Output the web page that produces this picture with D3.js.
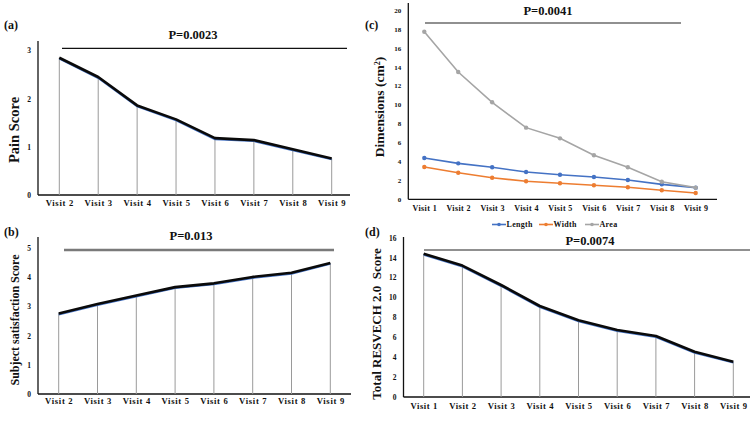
<!DOCTYPE html>
<html>
<head>
<meta charset="utf-8">
<script src="https://cdn.jsdelivr.net/npm/d3@7"></script>
<style>
  body { margin: 0; background: #fff; }
  svg { display: block; font-family: "Liberation Serif", "Times New Roman", serif; font-weight: bold; }
</style>
</head>
<body>
<svg id="chart" width="750" height="422"></svg>
<script>
// 数据
const visits2to9 = ["Visit 2", "Visit 3", "Visit 4", "Visit 5", "Visit 6", "Visit 7", "Visit 8", "Visit 9"];
const visits1to9 = ["Visit 1", "Visit 2", "Visit 3", "Visit 4", "Visit 5", "Visit 6", "Visit 7", "Visit 8", "Visit 9"];

const painScore = [2.85, 2.45, 1.86, 1.57, 1.18, 1.14, 0.95, 0.76];
const satisfactionScore = [2.76, 3.08, 3.37, 3.66, 3.79, 4.01, 4.15, 4.49];
const lengthCm = [4.36, 3.8, 3.38, 2.88, 2.6, 2.36, 2.04, 1.58, 1.23];
const widthCm = [3.41, 2.81, 2.28, 1.9, 1.69, 1.48, 1.27, 0.95, 0.67];
const areaCm = [17.7, 13.45, 10.25, 7.57, 6.44, 4.65, 3.38, 1.86, 1.23];
const resvechScore = [14.39, 13.2, 11.25, 9.14, 7.7, 6.73, 6.12, 4.55, 3.55];

const painTicks = [0, 1, 2, 3];
const satTicks = [0, 1, 2, 3, 4, 5];
const dimTicks = [0, 2, 4, 6, 8, 10, 12, 14, 16, 18, 20];
const resTicks = [0, 2, 4, 6, 8, 10, 12, 14, 16];

const dimSeries = [
  { name: "Length", values: lengthCm, color: "#4472C4" },
  { name: "Width", values: widthCm, color: "#ED7D31" },
  { name: "Area", values: areaCm, color: "#A5A5A5" }
];

const svg = d3.select("#chart");

// 画一个面板的坐标轴和标题
function drawFrame(p) {
  const g = svg.append("g");
  // x 轴线
  g.append("line")
    .attr("x1", p.axisX).attr("x2", p.axisRight)
    .attr("y1", p.y(0)).attr("y2", p.y(0))
    .attr("stroke", "#111").attr("stroke-width", 1.3);
  // y 轴线
  g.append("line")
    .attr("x1", p.axisX).attr("x2", p.axisX)
    .attr("y1", p.axisTop).attr("y2", p.y(0))
    .attr("stroke", "#111").attr("stroke-width", 1.3);

  // y 刻度
  const ya = g.append("g")
    .attr("transform", `translate(${p.axisX},0)`)
    .call(d3.axisLeft(p.y).tickValues(p.yTicks).tickFormat(d3.format("d")).tickSize(0).tickPadding(p.yPad));
  ya.select(".domain").remove();
  ya.selectAll("text").attr("font-size", p.yFont).attr("font-family", "Liberation Serif").attr("font-weight", "bold").attr("fill", "#111");

  // x 刻度
  const xa = g.append("g")
    .attr("transform", `translate(0,${p.y(0)})`)
    .call(d3.axisBottom(p.x).tickSize(0).tickPadding(p.xPad));
  xa.select(".domain").remove();
  xa.selectAll("text").attr("font-size", p.xFont).attr("font-family", "Liberation Serif")
    .attr("font-weight", "bold").attr("fill", "#111").style("letter-spacing", p.xSpacing + "px");

  // y 轴标题
  g.append("text")
    .attr("transform", `translate(${p.titleX},${p.titleY}) rotate(-90)`)
    .attr("text-anchor", "middle")
    .attr("dy", "0.35em")
    .attr("font-size", p.titleFont)
    .attr("fill", "#111")
    .html(p.title);

  // 面板字母
  g.append("text")
    .attr("x", p.letterX).attr("y", p.letterY)
    .attr("font-size", 12).attr("fill", "#111")
    .text(p.letter);

  // P 值线
  g.append("line")
    .attr("x1", p.pX1).attr("x2", p.pX2)
    .attr("y1", p.pY).attr("y2", p.pY)
    .attr("stroke", p.pColor).attr("stroke-width", p.pWidth);
  g.append("text")
    .attr("x", p.pTextX).attr("y", p.pTextY)
    .attr("text-anchor", "middle")
    .attr("font-size", 12.5).attr("fill", "#111")
    .text(p.pText);
  return g;
}

// 黑色折线 + 下垂线
function drawDropLine(g, p, values, labels) {
  const pts = values.map((v, i) => [p.x(labels[i]), p.y(v)]);
  g.selectAll(".drop")
    .data(pts)
    .join("line")
    .attr("x1", d => d[0]).attr("x2", d => d[0])
    .attr("y1", d => d[1]).attr("y2", p.y(0))
    .attr("stroke", "#9a9a9a").attr("stroke-width", 1);
  const line = d3.line();
  g.append("path")
    .attr("d", line(pts.map(d => [d[0], d[1] + 1])))
    .attr("fill", "none").attr("stroke", "#4472C4").attr("stroke-width", 2);
  g.append("path")
    .attr("d", line(pts))
    .attr("fill", "none").attr("stroke", "#0a0a0a").attr("stroke-width", 2.6)
    .attr("stroke-linejoin", "round");
}

// (a) Pain Score
const pa = {
  x: d3.scalePoint().domain(visits2to9).range([59.3, 331.7]),
  y: d3.scaleLinear().domain([0, 3]).range([195, 50.5]),
  axisX: 38, axisRight: 350, axisTop: 41, yTicks: painTicks, yPad: 7, yFont: 7.5,
  xPad: 5, xFont: 8.6, xSpacing: 0.7,
  title: "Pain Score", titleX: 14, titleY: 130, titleFont: 14.5,
  letter: "(a)", letterX: 4, letterY: 29,
  pX1: 62, pX2: 347, pY: 48.3, pColor: "#111", pWidth: 1.2, pText: "P=0.0023", pTextX: 193, pTextY: 39
};
const ga = drawFrame(pa);
drawDropLine(ga, pa, painScore, visits2to9);

// (b) Subject satisfaction Score
const pb = {
  x: d3.scalePoint().domain(visits2to9).range([58.7, 330.3]),
  y: d3.scaleLinear().domain([0, 5]).range([394, 248]),
  axisX: 38, axisRight: 351, axisTop: 237, yTicks: satTicks, yPad: 7, yFont: 7.5,
  xPad: 4, xFont: 8.6, xSpacing: 0.7,
  title: "Subject satisfaction Score", titleX: 15, titleY: 320, titleFont: 12,
  letter: "(b)", letterX: 4, letterY: 236,
  pX1: 64, pX2: 334, pY: 250, pColor: "#7a7a7a", pWidth: 2.4, pText: "P=0.013", pTextX: 191, pTextY: 240
};
const gb = drawFrame(pb);
drawDropLine(gb, pb, satisfactionScore, visits2to9);

// (c) Dimensions
const pc = {
  x: d3.scalePoint().domain(visits1to9).range([424.3, 695.7]),
  y: d3.scaleLinear().domain([0, 20]).range([199.3, 10]),
  axisX: 408.3, axisRight: 717, axisTop: 3, yTicks: dimTicks, yPad: 7, yFont: 7,
  xPad: 6, xFont: 8, xSpacing: 0.4,
  title: "Dimensions (cm<tspan baseline-shift='super' font-size='8'>2</tspan>)", titleX: 379, titleY: 107, titleFont: 13.5,
  letter: "(c)", letterX: 365, letterY: 29,
  pX1: 425, pX2: 681, pY: 23, pColor: "#222", pWidth: 1.2, pText: "P=0.0041", pTextX: 548, pTextY: 15
};
const gc = drawFrame(pc);
const dimLine = d3.line().x((d, i) => pc.x(visits1to9[i])).y(d => pc.y(d));
dimSeries.forEach(s => {
  gc.append("path")
    .attr("d", dimLine(s.values))
    .attr("fill", "none").attr("stroke", s.color).attr("stroke-width", 1.6);
  gc.selectAll(null)
    .data(s.values)
    .join("circle")
    .attr("cx", (d, i) => pc.x(visits1to9[i]))
    .attr("cy", d => pc.y(d))
    .attr("r", 2.2)
    .attr("fill", s.color);
});

// 图例
const legendX = [492, 539, 585];
const legend = gc.selectAll(".leg")
  .data(dimSeries)
  .join("g")
  .attr("transform", (d, i) => `translate(${legendX[i]},224.5)`);
legend.append("line")
  .attr("x1", 0).attr("x2", 14)
  .attr("stroke", d => d.color).attr("stroke-width", 1.6);
legend.append("circle")
  .attr("cx", 7).attr("r", 1.8).attr("fill", d => d.color);
legend.append("text")
  .attr("x", 14.5).attr("dy", "0.35em")
  .attr("font-size", 8).attr("fill", "#111")
  .style("letter-spacing", "0.3px")
  .text(d => d.name);

// (d) Total RESVECH 2.0 Score
const pd = {
  x: d3.scalePoint().domain(visits1to9).range([423.7, 733.3]),
  y: d3.scaleLinear().domain([0, 16]).range([397, 237.7]),
  axisX: 403.5, axisRight: 750, axisTop: 237, yTicks: resTicks, yPad: 7, yFont: 7.5,
  xPad: 6, xFont: 8.6, xSpacing: 0.6,
  title: "Total RESVECH 2.0\u00a0\u00a0Score", titleX: 376, titleY: 324, titleFont: 13,
  letter: "(d)", letterX: 365, letterY: 236,
  pX1: 424, pX2: 750, pY: 250, pColor: "#222", pWidth: 1.2, pText: "P=0.0074", pTextX: 590, pTextY: 245
};
const gd = drawFrame(pd);
drawDropLine(gd, pd, resvechScore, visits1to9);
</script>
</body>
</html>
